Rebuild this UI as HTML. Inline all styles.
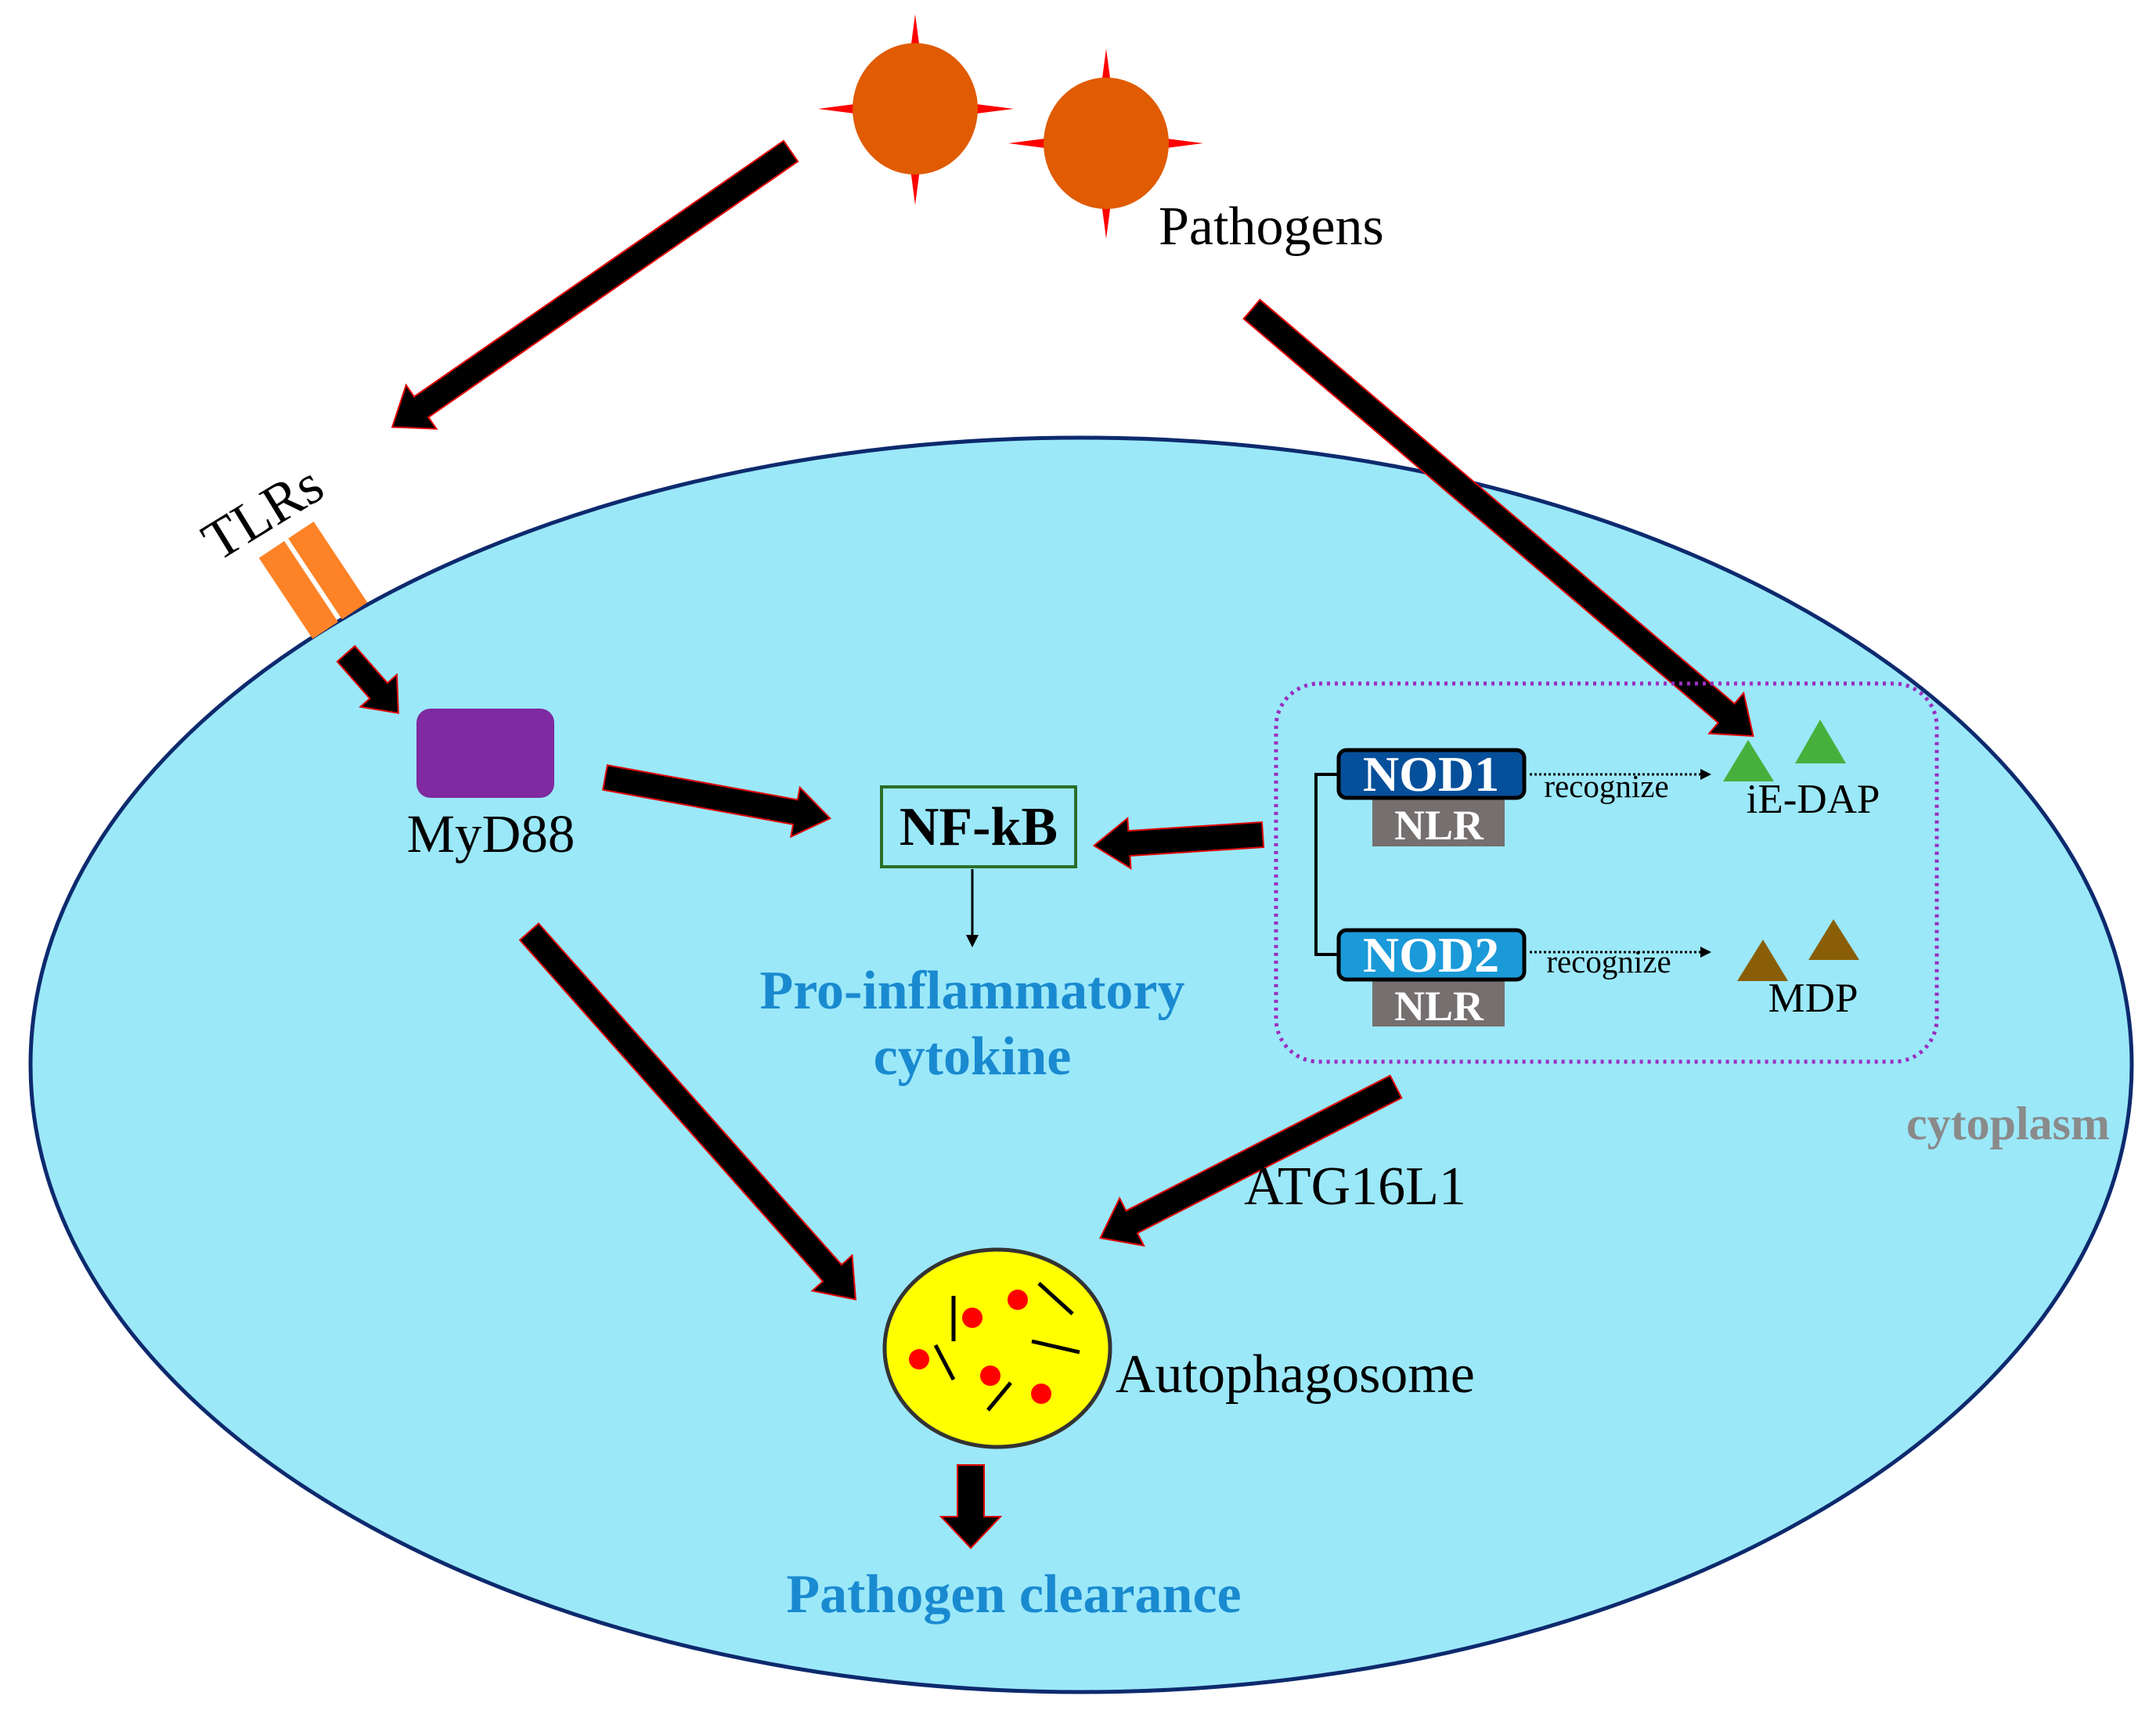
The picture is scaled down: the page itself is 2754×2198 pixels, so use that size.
<!DOCTYPE html>
<html><head><meta charset="utf-8"><style>
html,body{margin:0;padding:0;background:#fff;}
svg{display:block;}
text{font-family:"Liberation Serif",serif;}
</style></head><body>
<svg width="2754" height="2198" viewBox="0 0 2754 2198" xmlns="http://www.w3.org/2000/svg">
<ellipse cx="1381" cy="1360" rx="1342" ry="801" fill="#9be8f9" stroke="#0d2a6e" stroke-width="5"/>

<g>
<polygon points="1169,18 1185,139 1169,262 1153,139" fill="#ff0000"/>
<polygon points="1045,139 1169,123 1295,139 1169,155" fill="#ff0000"/>
<ellipse cx="1169" cy="139" rx="80" ry="84" fill="#e05b02"/>
<polygon points="1413,62 1429,183 1413,305 1397,183" fill="#ff0000"/>
<polygon points="1288,183 1413,167 1537,183 1413,199" fill="#ff0000"/>
<ellipse cx="1413" cy="183" rx="80" ry="84" fill="#e05b02"/>
</g>
<text x="1480" y="312" font-size="70">Pathogens</text>

<text x="0" y="0" font-size="72" transform="translate(278,718) rotate(-31.5)">TLRs</text>
<g transform="translate(400,741) rotate(56.4)">
<rect x="-62" y="-42" width="124" height="39" fill="#fe8327"/>
<rect x="-62" y="3" width="124" height="39" fill="#fe8327"/>
</g>

<g fill="#000" stroke="#e00000" stroke-width="2">
<polygon transform="translate(1010,193) rotate(145.3)" points="0,-16 574,-16 574,-34 619,0 574,34 574,16 0,16"/>
<polygon transform="translate(1599,395) rotate(40.4)" points="0,-16 796,-16 796,-34 841,0 796,34 796,16 0,16"/>
<polygon transform="translate(442,835) rotate(48.6)" points="0,-15 63,-15 63,-31 101,0 63,31 63,15 0,15"/>
<polygon transform="translate(773,993) rotate(10.3)" points="0,-16 247,-16 247,-32 292,0 247,32 247,16 0,16"/>
<polygon transform="translate(1613,1066) rotate(176.3)" points="0,-16 171,-16 171,-32 216,0 171,32 171,16 0,16"/>
<polygon transform="translate(1783,1388) rotate(152.9)" points="0,-16 379,-16 379,-34 424,0 379,34 379,16 0,16"/>
<polygon transform="translate(676,1190) rotate(48.4)" points="0,-16 583,-16 583,-34 628,0 583,34 583,16 0,16"/>
<polygon transform="translate(1240,1871) rotate(90)" points="0,-17 66,-17 66,-38 106,0 66,38 66,17 0,17"/>
</g>

<rect x="532" y="905" width="176" height="114" rx="18" fill="#7f2aa0"/>
<text x="627" y="1088" font-size="69" text-anchor="middle">MyD88</text>

<rect x="1126" y="1005" width="248" height="102" fill="none" stroke="#2a6e2a" stroke-width="4"/>
<text x="1250" y="1079" font-size="70" font-weight="bold" text-anchor="middle">NF-kB</text>
<line x1="1242" y1="1110" x2="1242" y2="1196" stroke="#000" stroke-width="3"/>
<polygon points="1234,1194 1250,1194 1242,1210" fill="#000"/>
<text x="1242" y="1288" font-size="70" font-weight="bold" fill="#1a8ad0" text-anchor="middle">Pro-inflammatory</text>
<text x="1242" y="1372" font-size="70" font-weight="bold" fill="#1a8ad0" text-anchor="middle">cytokine</text>

<rect x="1630" y="873" width="844" height="483" rx="55" fill="none" stroke="#9a2ec0" stroke-width="5" stroke-dasharray="4,6"/>
<polyline points="1712,989 1681,989 1681,1219 1712,1219" fill="none" stroke="#000" stroke-width="4"/>
<rect x="1753" y="1019" width="169" height="62" fill="#766f6f"/>
<rect x="1710" y="958" width="237" height="61" rx="10" fill="#064f9a" stroke="#000" stroke-width="5"/>
<text x="1828" y="1010" font-size="64" font-weight="bold" fill="#fff" text-anchor="middle">NOD1</text>
<text x="1838" y="1072" font-size="54" font-weight="bold" fill="#fff" text-anchor="middle">NLR</text>
<rect x="1753" y="1251" width="169" height="60" fill="#766f6f"/>
<rect x="1710" y="1188" width="237" height="63" rx="10" fill="#1a9ad8" stroke="#000" stroke-width="5"/>
<text x="1828" y="1241" font-size="64" font-weight="bold" fill="#fff" text-anchor="middle">NOD2</text>
<text x="1838" y="1303" font-size="54" font-weight="bold" fill="#fff" text-anchor="middle">NLR</text>

<line x1="1954" y1="989" x2="2175" y2="989" stroke="#000" stroke-width="3" stroke-dasharray="3,3"/>
<polygon points="2172,982 2186,989 2172,996" fill="#000"/>
<line x1="1954" y1="1216" x2="2175" y2="1216" stroke="#000" stroke-width="3" stroke-dasharray="3,3"/>
<polygon points="2172,1209 2186,1216 2172,1223" fill="#000"/>
<text x="2052" y="1018" font-size="41" text-anchor="middle">recognize</text>
<text x="2055" y="1242" font-size="41" text-anchor="middle">recognize</text>

<polygon points="2233,945 2266,998 2201,998" fill="#47b03c"/>
<polygon points="2325,919 2358,975 2293,975" fill="#47b03c"/>
<text x="2316" y="1038" font-size="53" text-anchor="middle">iE-DAP</text>
<polygon points="2252,1200 2284,1253 2219,1253" fill="#8a5e07"/>
<polygon points="2342,1174 2375,1226 2310,1226" fill="#8a5e07"/>
<text x="2316" y="1292" font-size="53" text-anchor="middle">MDP</text>

<text x="2565" y="1455" font-size="60" font-weight="bold" fill="#8a8a8a" text-anchor="middle">cytoplasm</text>
<text x="1731" y="1538" font-size="70" text-anchor="middle">ATG16L1</text>

<ellipse cx="1274" cy="1722" rx="144" ry="126" fill="#ffff00" stroke="#333" stroke-width="5"/>
<g fill="#ff0000">
<circle cx="1242" cy="1683" r="13"/><circle cx="1300" cy="1660" r="13"/><circle cx="1174" cy="1736" r="13"/><circle cx="1265" cy="1757" r="13"/><circle cx="1330" cy="1780" r="13"/>
</g>
<g stroke="#000" stroke-width="5">
<line x1="1218" y1="1655" x2="1218" y2="1713"/>
<line x1="1327" y1="1639" x2="1370" y2="1678"/>
<line x1="1318" y1="1713" x2="1379" y2="1727"/>
<line x1="1195" y1="1718" x2="1218" y2="1762"/>
<line x1="1262" y1="1801" x2="1291" y2="1766"/>
</g>
<text x="1425" y="1778" font-size="70">Autophagosome</text>
<text x="1295" y="2059" font-size="70" font-weight="bold" fill="#1a8ad0" text-anchor="middle">Pathogen clearance</text>
</svg>
</body></html>
